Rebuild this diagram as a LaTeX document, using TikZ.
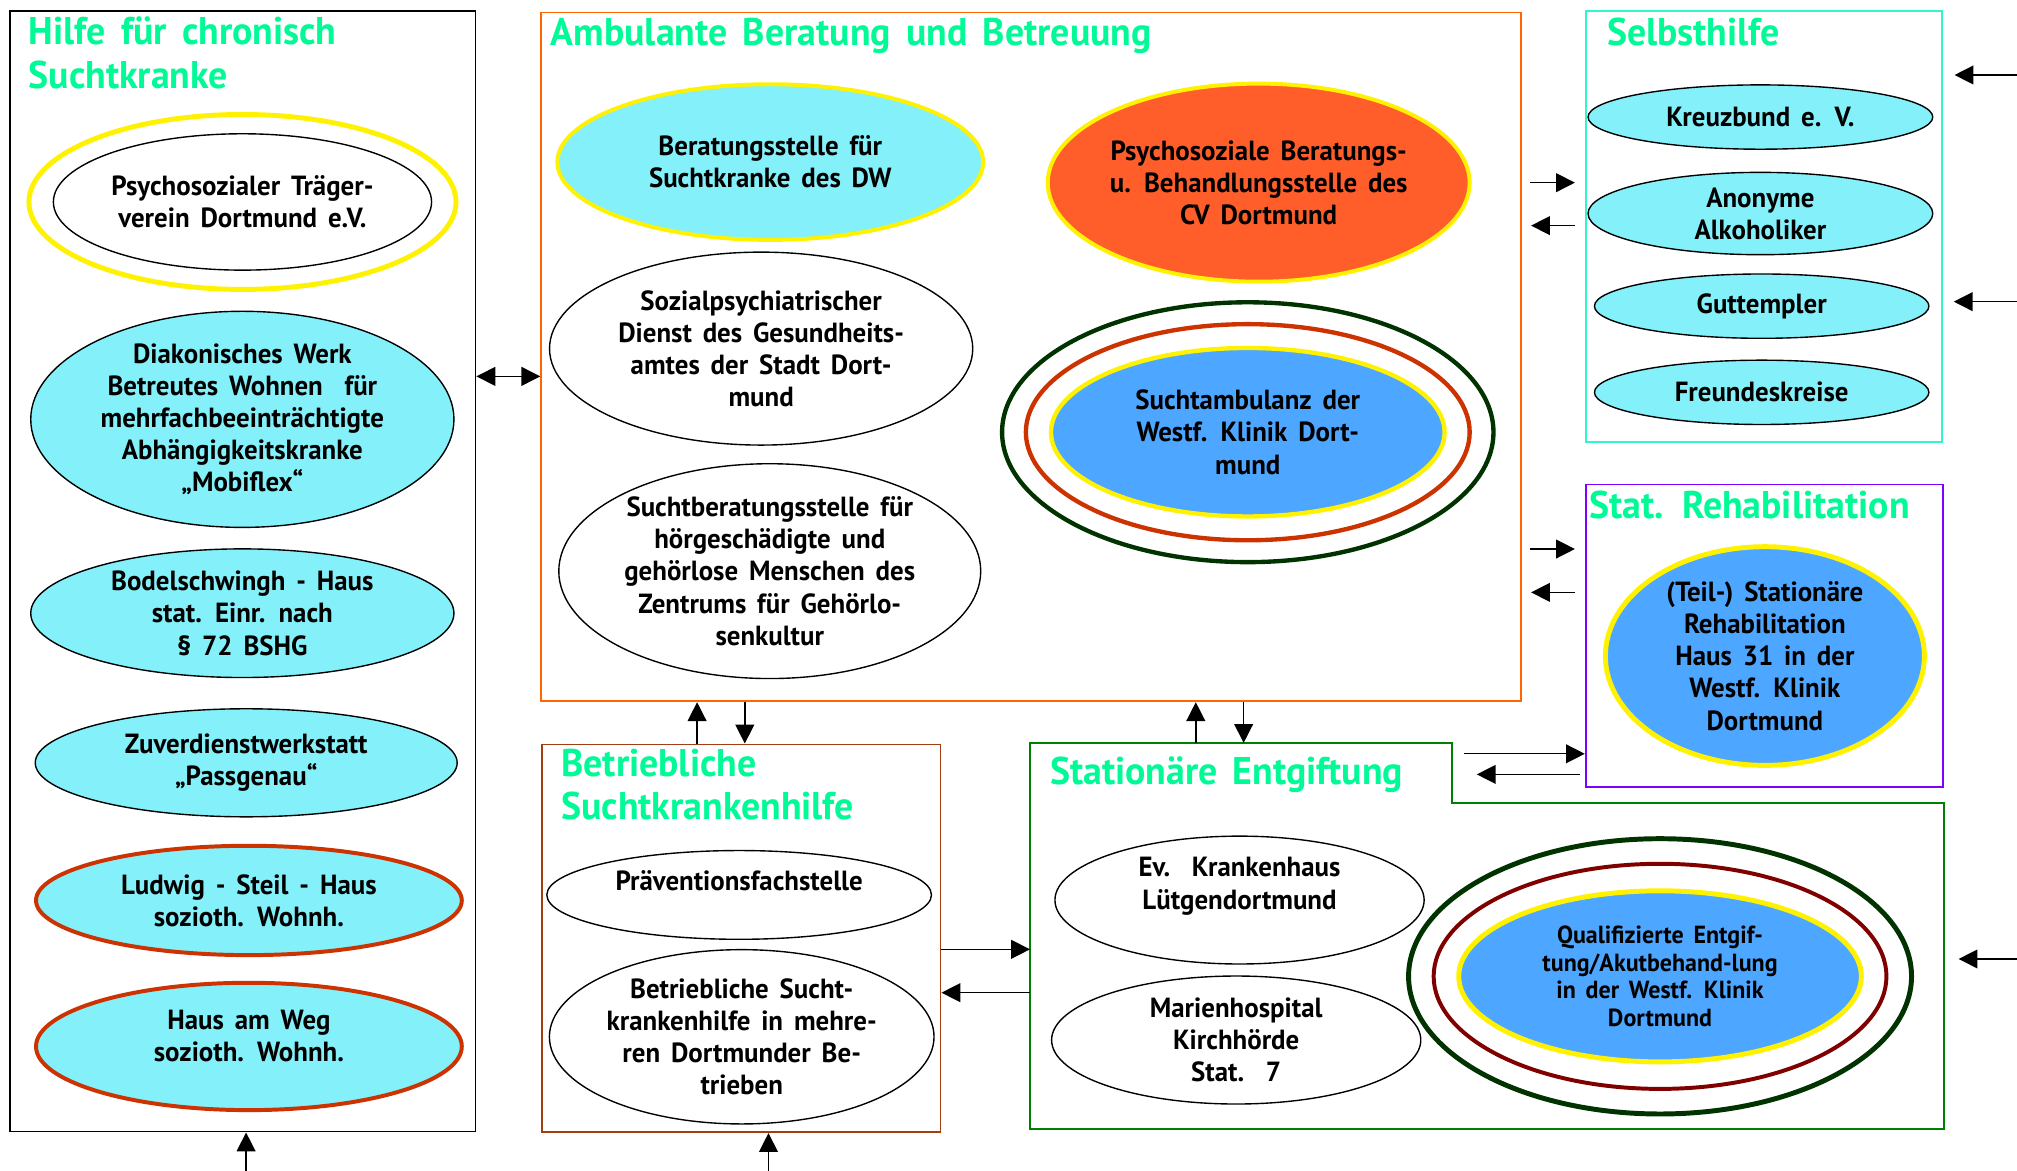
\documentclass[tikz,border=0pt]{standalone}
\usepackage{fontspec}
\setmainfont{PT Sans}[FakeStretch=0.97, WordSpace=1.6]
\newfontfamily\titlefont{PT Sans}[FakeStretch=0.98, WordSpace=1.6]
\usepackage{tikz}
\usetikzlibrary{positioning, calc, shapes.geometric, arrows.meta}

\definecolor{Aqua}{RGB}{132,241,250}
\definecolor{SkyBlue2}{RGB}{77,166,255}
\definecolor{Tomato2}{RGB}{255,94,42}
\definecolor{TitleGreen}{RGB}{0,250,150}
\definecolor{Rust}{RGB}{204,51,0}
\definecolor{DarkGreen}{RGB}{0,51,0}
\definecolor{DarkRed}{RGB}{128,0,0}
\definecolor{AmbOrange}{RGB}{255,102,0}
\definecolor{BetrBrown}{RGB}{160,64,16}
\definecolor{EntgGreen}{RGB}{0,128,0}
\definecolor{SelbstAqua}{RGB}{51,245,204}
\definecolor{RehaPurple}{RGB}{128,0,255}

\begin{document}
\begin{tikzpicture}[
    x=0.65pt, y=-0.65pt,
    >={Triangle[length=9.5pt, width=9.5pt]},
    every edge/.style={draw, line width=0.7pt},
    area/.style={draw, line width=0.9pt, inner sep=0pt, anchor=north west},
    areatitle/.style={anchor=base west, align=left, inner sep=0pt, text=TitleGreen, font=\titlefont\bfseries\fontsize{19.5}{22}\selectfont},
    org/.style={ellipse, draw, line width=0.7pt, inner sep=0pt, align=center, font=\bfseries\fontsize{14}{16.25}\selectfont},
    dims/.style 2 args={minimum width=#1*0.65pt, minimum height=#2*0.65pt},
    ring/.style={ellipse, draw=#1, line width=2.2pt, inner sep=0pt}]

    \path[fill=white] (0,0) rectangle (1568,910);
    \useasboundingbox (0,0) rectangle (1568,910);

    %%% Areas
    \node at (7,8)[area, dims={362}{871}] (hilfe) {};
    \node at (420,9)[area, draw=AmbOrange, dims={761.5}{535.5}] (amb) {};
    \node at (1232,8)[area, draw=SelbstAqua, dims={277}{335}] (selbst) {};
    \node at (1232,376)[area, draw=RehaPurple, dims={278}{235}] (reha) {};
    \node at (420.5,578)[area, draw=BetrBrown, dims={310}{301.5}] (betr) {};
    \node at (800.7,577.5)[area, draw=none, dims={709}{298.5}] (entg) {};
    \coordinate (entg-notch) at (1129,624.5);
    \draw[line width=0.9pt, EntgGreen] (entg.south west) |- (entg-notch |- entg.north)
        |- (entg.east |- entg-notch) |- (entg.south west) -- cycle;

    \node at (22,68.7)[areatitle] (hilfe-title) {Hilfe für chronisch\\Suchtkranke};
    \node at (428,35)[areatitle] (amb-title) {Ambulante Beratung und Betreuung};
    \node at (1249,35)[areatitle] (selbst-title) {Selbsthilfe};
    \node at (1235,403)[areatitle] (reha-title) {Stat. Rehabilitation};
    \node at (436,637.4)[areatitle] (betr-title) {Betriebliche\\Suchtkrankenhilfe};
    \node at (816,610)[areatitle] (entg-title) {Stationäre Entgiftung};

    %%% Hilfe fuer chronisch Suchtkranke
    \node at (188.5,157)[ring=yellow, line width=2.5pt, dims={332}{136}] (ptv-ring) {};
    \node at (188.5,157)[org, fill=white, dims={294}{106}] (ptv) {Psychosozialer Träger-\\verein Dortmund e.V.};
    \node at (188.4,326)[org, fill=Aqua, dims={329}{168}] (dw) {Diakonisches Werk\\Betreutes Wohnen\ \ für\\mehrfachbeeinträchtigte\\Abhängigkeitskranke\\„Mobiflex“};
    \node at (188.4,476.7)[org, fill=Aqua, dims={329}{100}] (bodel) {Bodelschwingh - Haus\\stat. Einr. nach\\§ 72 BSHG};
    \node at (191.4,593)[org, fill=Aqua, dims={328}{84}] (zuv) {Zuverdienstwerkstatt\\„Passgenau“};
    \node at (193.5,700)[org, fill=Aqua, draw=Rust, line width=2pt, dims={331}{85}] (ludwig) {Ludwig - Steil - Haus\\sozioth. Wohnh.};
    \node at (193.5,813.5)[org, fill=Aqua, draw=Rust, line width=2pt, text depth=11pt, dims={331}{99}] (weg) {Haus am Weg\\sozioth. Wohnh.};

    %%% Ambulante Beratung
    \node at (598.8,126)[org, fill=Aqua, draw=yellow, line width=2pt, dims={331}{121}] (dwber) {Beratungsstelle für\\Suchtkranke des DW};
    \node at (978.5,142)[org, fill=Tomato2, draw=yellow, line width=2pt, dims={328}{154}] (cv) {Psychosoziale Beratungs-\\u. Behandlungsstelle des\\CV Dortmund};
    \node at (591.7,271)[org, fill=white, dims={329}{150}] (spd) {Sozialpsychiatrischer\\Dienst des Gesundheits-\\amtes der Stadt Dort-\\mund};
    \node at (598.4,444)[org, fill=white, dims={328}{167}] (hoer) {Suchtberatungsstelle für\\hörgeschädigte und\\gehörlose Menschen des\\Zentrums für Gehörlo-\\senkultur};
    \node at (970,336)[ring=DarkGreen, dims={382}{202}] (sa-ring1) {};
    \node at (970,336)[ring=Rust, dims={345}{168}] (sa-ring2) {};
    \node at (970,336)[org, fill=SkyBlue2, draw=yellow, line width=2.2pt, dims={306}{131}] (sa) {Suchtambulanz der\\Westf. Klinik Dort-\\mund};

    %%% Selbsthilfe
    \node at (1368.5,91)[org, fill=Aqua, dims={268}{50}] (kreuz) {Kreuzbund e. V.};
    \node at (1368.5,166)[org, fill=Aqua, dims={268}{64}] (aa) {Anonyme\\Alkoholiker};
    \node at (1369.5,238)[org, fill=Aqua, dims={260}{50}] (gutt) {Guttempler};
    \node at (1369.5,305)[org, fill=Aqua, dims={260}{50}] (freund) {Freundeskreise};

    %%% Stat. Rehabilitation
    \node at (1372,510)[org, fill=SkyBlue2, draw=yellow, line width=2.5pt, dims={248}{170}] (haus31) {(Teil-) Stationäre\\Rehabilitation\\Haus 31 in der\\Westf. Klinik\\Dortmund};

    %%% Betriebliche Suchtkrankenhilfe
    \node at (574.6,695.7)[org, fill=white, text depth=15pt, dims={299}{69}] (praev) {Präventionsfachstelle};
    \node at (576.6,806)[org, fill=white, dims={299}{135.5}] (bsh) {Betriebliche Sucht-\\krankenhilfe in mehre-\\ren Dortmunder Be-\\trieben};

    %%% Stationaere Entgiftung
    \node at (963.6,699.7)[org, fill=white, text depth=17pt, dims={287}{99.4}] (evk) {Ev.\ \ Krankenhaus\\Lütgendortmund};
    \node at (961,808.5)[org, fill=white, dims={287}{99.5}] (marien) {Marienhospital\\Kirchhörde\\Stat.\ \ 7};
    \node at (1290.5,759)[ring=DarkGreen, line width=2.5pt, dims={391}{214}] (qe-ring1) {};
    \node at (1290.5,759)[ring=DarkRed, line width=2pt, dims={352}{175}] (qe-ring2) {};
    \node at (1290.5,759)[org, fill=SkyBlue2, draw=yellow, line width=2.5pt, dims={313}{133}, font=\bfseries\fontsize{12.5}{14.1}\selectfont] (qe) {Qualifizierte Entgif-\\tung/Akutbehand-lung\\in der Westf. Klinik\\Dortmund};

    %%% Relations between areas
    \path (hilfe.east |- 0,292.6) edge [<->] (amb.west |- 0,292.6);
    \path (amb.east |- 0,142) edge [->, shorten <=4.2pt, shorten >=5pt] (selbst.west |- 0,142);
    \path (selbst.west |- 0,175.4) edge [->, shorten <=5pt, shorten >=4.8pt] (amb.east |- 0,175.4);
    \path (amb.east |- 0,426.8) edge [->, shorten <=4.2pt, shorten >=5pt] (reha.west |- 0,426.8);
    \path (reha.west |- 0,460.5) edge [->, shorten <=5pt, shorten >=4.8pt] (amb.east |- 0,460.5);
    \path (betr.north -| 541.9,0) edge [->] (amb.south -| 541.9,0);
    \path (amb.south -| 579,0) edge [->] (betr.north -| 579,0);
    \path (entg.north -| 929.6,0) edge [->] (amb.south -| 929.6,0);
    \path (amb.south -| 966.8,0) edge [->] (entg.north -| 966.8,0);
    \path (betr.east |- 0,738) edge [->] (entg.west |- 0,738);
    \path (entg.west |- 0,771.7) edge [->] (betr.east |- 0,771.7);
    \path (entg-notch |- 0,586) edge [->, shorten <=5.9pt] (reha.west |- 0,586);
    \path (reha.west |- 0,602) edge [->, shorten <=2.3pt, shorten >=12.4pt] (entg-notch |- 0,602);

    %%% Arrows coming in from outside
    \coordinate (in-selbst1) at (1568,58.3);
    \coordinate (in-selbst2) at (1568,234.5);
    \coordinate (in-entg) at (1568,745.5);
    \coordinate (in-hilfe) at (191.3,910);
    \coordinate (in-betr) at (597.4,910);
    \path (in-selbst1) edge [->, shorten >=5.9pt] (selbst.east |- in-selbst1);
    \path (in-selbst2) edge [->, shorten >=5.5pt] (selbst.east |- in-selbst2);
    \path (in-entg) edge [->, shorten >=7.5pt] (entg.east |- in-entg);
    \path (in-hilfe) edge [->] (hilfe.south -| in-hilfe);
    \path (in-betr) edge [->] (betr.south -| in-betr);

\end{tikzpicture}
\end{document}
